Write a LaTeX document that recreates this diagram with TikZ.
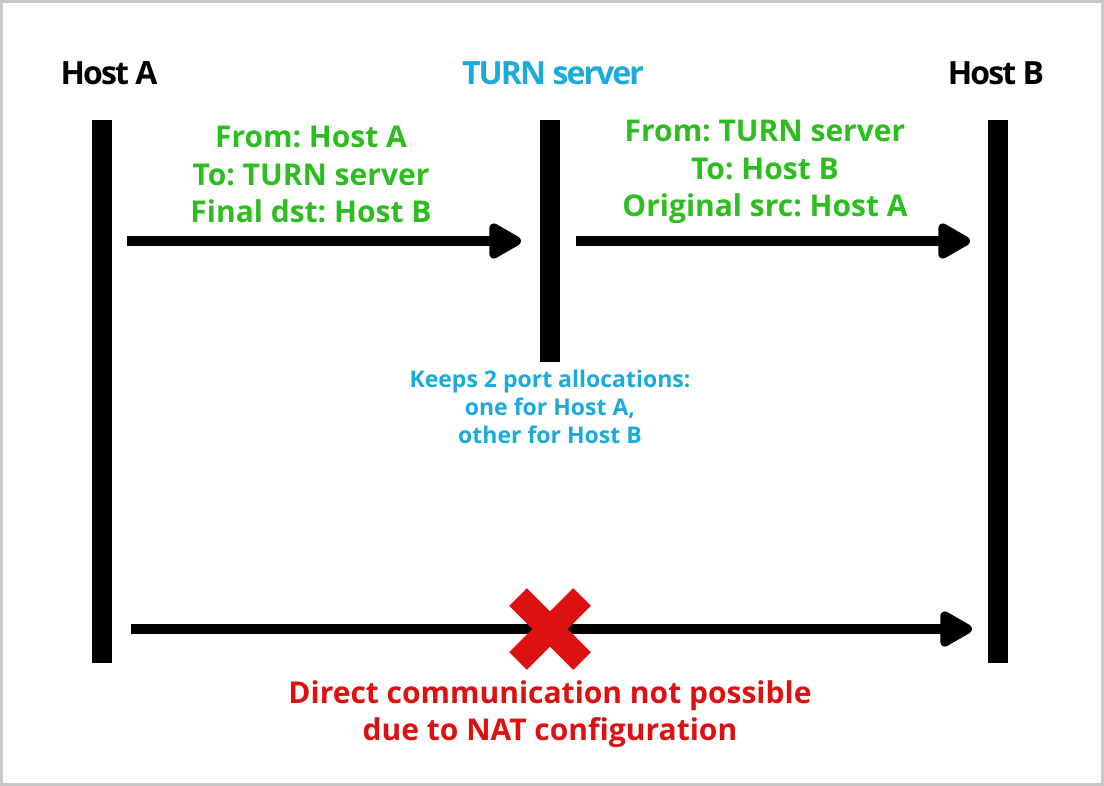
\documentclass[tikz,border=0pt]{standalone}
\usepackage{fontspec}
\setmainfont{Open Sans}
\newfontfamily\headfont[LetterSpace=-6]{Open Sans}
\usetikzlibrary{arrows.meta}
\definecolor{turnblue}{RGB}{27,170,220}
\definecolor{msggreen}{RGB}{44,190,30}
\definecolor{natred}{RGB}{221,17,17}
\definecolor{framegray}{RGB}{200,200,200}
\frenchspacing
\begin{document}
\begin{tikzpicture}[x=1pt,y=-1pt,
  title/.style={anchor=north, inner sep=0pt, font=\headfont\fontsize{32}{38}\selectfont\bfseries},
  msg/.style={anchor=north, inner sep=0pt, align=center, text=msggreen, font=\fontsize{30}{37.5}\selectfont\bfseries},
  note/.style={anchor=north, inner sep=0pt, align=center, text=turnblue, font=\fontsize{23}{28}\selectfont\bfseries},
  fail/.style={anchor=north, inner sep=0pt, align=center, text=natred, font=\fontsize{30}{37}\selectfont\bfseries},
  lifeline/.style={line width=20pt},
  packet/.style={line width=10pt, -{Triangle[length=37pt,width=39pt,round]}}]
\useasboundingbox (0,0) rectangle (1104,786);
\draw[framegray, line width=3pt, fill=white] (1.5,1.5) rectangle (1102.5,784.5);

\node[title] (hosta) at (109,61) {Host A};
\node[title, text=turnblue] (turn) at (553,61) {TURN server};
\node[title] (hostb) at (996,61) {Host B};

\coordinate (atop) at (102,120);
\coordinate (abot) at (102,663);
\coordinate (ttop) at (550,120);
\coordinate (tbot) at (550,362);
\coordinate (btop) at (998,120);
\coordinate (bbot) at (998,663);
\path[draw,lifeline] (atop) -- (abot);
\path[draw,lifeline] (ttop) -- (tbot);
\path[draw,lifeline] (btop) -- (bbot);

\coordinate (reqs) at (127,241);
\coordinate (reqe) at (521,241);
\coordinate (rels) at (576,241);
\coordinate (rele) at (970,241);
\coordinate (dirs) at (131,629);
\coordinate (dire) at (972,629);
\path[draw,packet] (reqs) -- (reqe);
\path[draw,packet] (rels) -- (rele);
\path[draw,packet] (dirs) -- (dire);

\node[msg] (req) at (311,126) {From: Host A\\To: TURN server\\Final dst: Host B};
\node[msg] (rel) at (765,120) {From: TURN server\\To: Host B\\Original src: Host A};
\node[note] (alloc) at (550,370) {Keeps 2 port allocations:\\one for Host A,\\other for Host B};

% blocked path
\coordinate (cross) at (550,629);
\draw[natred, line width=25pt] (cross) ++(-32,-32) -- ++(64,64);
\draw[natred, line width=25pt] (cross) ++(32,-32) -- ++(-64,64);
\node[fail] (nat) at (550,681) {Direct communication not possible\\due to NAT configuration};
\end{tikzpicture}
\end{document}
